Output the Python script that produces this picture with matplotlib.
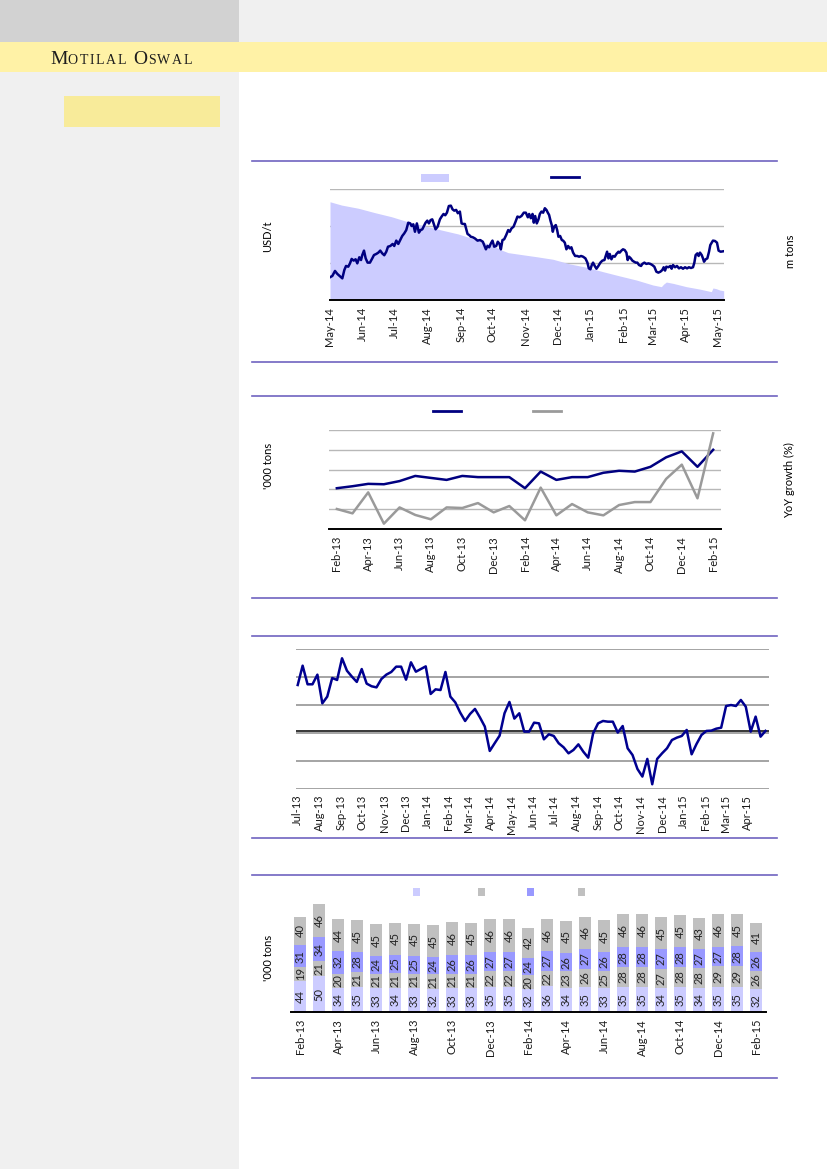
import numpy as np
import pandas as pd
import matplotlib
matplotlib.use('Agg')
import matplotlib.pyplot as plt
from matplotlib.patches import Rectangle
from matplotlib.lines import Line2D

plt.rcParams['font.family'] = ['Lato', 'DejaVu Sans']

# ---- chart 1: price (USD/t, left) and stocks (m tons, right), days from 1 May 2014
price_day = [0, 2.2, 4.7, 6.9, 9.1, 11.6, 13.5, 15.1, 17.2, 18.8,
             20.4, 22.3, 24.1, 25.7, 27.6, 29.2, 30.4, 32.0, 33.6, 35.4,
             37.6, 39.8, 41.4, 43.6, 45.5, 47.3, 49.2, 51.1, 53.0, 54.6,
             56.8, 59.0, 60.5, 62.4, 64.3, 66.5, 68.0, 69.9, 71.8, 73.7,
             75.6, 76.8, 78.4, 80.0, 81.8, 83.7, 85.3, 86.9, 88.1, 90.0,
             91.6, 93.1, 94.7, 96.3, 98.1, 99.4, 101.3, 103.5, 105.1, 106.9,
             108.5, 110.1, 111.9, 113.8, 115.4, 117.0, 118.8, 120.4, 122.3, 123.9,
             125.4, 127.0, 129.5, 131.1, 132.6, 134.5, 136.4, 138.9, 141.4, 143.9,
             145.2, 146.8, 148.3, 149.9, 151.5, 153.0, 154.6, 156.5, 158.0, 159.6,
             160.9, 162.4, 164.0, 165.9, 167.8, 169.3, 170.9, 172.8, 174.7, 176.5,
             178.4, 180.3, 182.5, 184.4, 186.3, 187.5, 189.1, 190.7, 191.9, 193.2,
             194.7, 196.3, 197.6, 199.1, 200.7, 202.3, 203.8, 205.1, 206.3, 207.6,
             208.8, 209.8, 211.0, 212.6, 213.9, 215.1, 216.7, 218.3, 219.5, 221.1,
             222.6, 224.2, 225.8, 227.3, 228.9, 230.8, 232.7, 234.6, 236.4, 238.3,
             240.5, 242.4, 243.7, 245.2, 246.5, 247.7, 249.3, 250.9, 252.7, 254.6,
             256.5, 258.4, 259.6, 260.9, 262.2, 263.4, 265.0, 266.5, 268.1, 269.7,
             271.6, 272.8, 274.4, 275.9, 277.5, 279.1, 280.3, 281.6, 283.2, 284.7,
             286.3, 287.9, 289.4, 291.0, 292.9, 294.1, 296.0, 297.9, 299.8, 301.7,
             303.5, 305.4, 307.3, 309.2, 311.1, 312.9, 314.2, 315.5, 316.7, 318.6,
             320.5, 321.7, 323.0, 324.9, 326.7, 328.6, 330.5, 332.4, 334.3, 336.2,
             338.0, 339.9, 341.8, 343.1, 344.3, 345.9, 347.1, 348.4, 350.0, 351.2,
             352.2, 353.7, 355.3, 356.9, 358.1, 359.4, 360.6, 362.5, 364.4, 365.9,
             367.8, 370.0]
price_usd = [2023, 2030, 2057, 2041, 2030, 2017, 2062, 2084, 2080, 2098,
             2122, 2113, 2120, 2098, 2131, 2116, 2143, 2167, 2125, 2102,
             2102, 2125, 2143, 2149, 2156, 2167, 2152, 2142, 2161, 2188,
             2192, 2203, 2192, 2221, 2203, 2228, 2246, 2260, 2278, 2318,
             2314, 2300, 2309, 2269, 2314, 2264, 2278, 2282, 2296, 2318,
             2329, 2314, 2332, 2336, 2305, 2282, 2296, 2336, 2351, 2365,
             2358, 2372, 2408, 2410, 2390, 2383, 2387, 2369, 2378, 2314,
             2311, 2311, 2257, 2251, 2242, 2239, 2233, 2221, 2224, 2215,
             2197, 2174, 2192, 2185, 2206, 2221, 2188, 2192, 2215, 2203,
             2174, 2224, 2228, 2251, 2278, 2269, 2287, 2296, 2323, 2351,
             2347, 2354, 2372, 2372, 2347, 2365, 2342, 2365, 2318, 2354,
             2314, 2336, 2365, 2378, 2372, 2396, 2387, 2372, 2360, 2329,
             2305, 2269, 2296, 2305, 2278, 2242, 2246, 2224, 2221, 2210,
             2174, 2192, 2179, 2185, 2156, 2138, 2138, 2134, 2138, 2134,
             2125, 2102, 2071, 2066, 2089, 2102, 2084, 2069, 2084, 2102,
             2113, 2116, 2138, 2161, 2125, 2149, 2120, 2138, 2134, 2149,
             2161, 2156, 2167, 2174, 2170, 2156, 2116, 2134, 2125, 2113,
             2107, 2102, 2102, 2089, 2084, 2095, 2102, 2095, 2098, 2095,
             2089, 2080, 2053, 2048, 2053, 2062, 2077, 2059, 2080, 2077,
             2084, 2069, 2089, 2077, 2084, 2071, 2077, 2069, 2077, 2071,
             2077, 2073, 2077, 2102, 2143, 2152, 2138, 2156, 2143, 2125,
             2107, 2120, 2125, 2161, 2197, 2210, 2221, 2219, 2210, 2167,
             2161, 2163]
stock_day = [0, 11, 26.6, 42.3, 58, 73.7, 89.4, 105.1, 120.7, 136.4,
             152.1, 161.5, 167.7, 183.4, 194.4, 210.1, 225.8, 241.5, 257.1, 272.8,
             288.5, 304.1, 312.0, 314.2, 316.7, 323.0, 335.6, 348.1, 359.1, 360.6,
             363.8, 366.9, 370.7]
stock_mt = [0.831, 0.813, 0.796, 0.772, 0.750, 0.722, 0.700, 0.678, 0.657, 0.628,
            0.597, 0.570, 0.556, 0.543, 0.534, 0.520, 0.495, 0.477, 0.453, 0.430,
            0.408, 0.381, 0.372, 0.386, 0.397, 0.390, 0.372, 0.359, 0.345, 0.365,
            0.361, 0.354, 0.350]

# ---- chart 2: monthly production ('000 tons) and YoY growth (%)
prod = [303, 308, 314, 313, 321, 334, 329, 324, 334, 331, 331, 331, 303,
        345, 324, 331, 331, 342, 347, 345, 357, 381, 396, 357, 400]
yoy = [-9.9, -12.1, -1.5, -17.3, -9.1, -12.9, -15.1, -9.1, -9.4, -6.9, -11.6, -8.4, -15.6,
       0.9, -13.1, -7.4, -11.6, -13.1, -7.9, -6.4, -6.4, 5.3, 12.5, -4.5, 28.3]

# ---- chart 3: weekly series from Jul-13
spread = [34.5, 48.3, 35.0, 35.0, 41.9, 21.4, 26.2, 39.5, 38.1, 53.6,
          44.7, 40.5, 36.7, 45.9, 35.5, 33.6, 32.8, 38.8, 41.9, 43.8,
          47.6, 47.6, 38.3, 50.7, 44.0, 45.9, 47.8, 28.1, 31.4, 30.9,
          43.8, 26.2, 22.1, 14.8, 8.8, 13.8, 17.4, 11.4, 4.8, -12.6,
          -7.1, -1.7, 14.3, 22.4, 10.5, 14.3, 1.2, 1.2, 7.6, 7.1,
          -4.3, -0.7, -1.9, -7.1, -10.0, -14.3, -11.9, -7.9, -13.1, -17.4,
          0.0, 7.1, 8.8, 8.3, 8.3, 0.5, 5.2, -10.7, -15.5, -25.5,
          -30.9, -18.3, -36.4, -18.3, -14.3, -10.7, -4.8, -3.1, -1.9, 2.4,
          -15.0, -7.6, -1.2, 1.7, 1.9, 3.3, 4.0, 19.5, 20.2, 19.5,
          23.8, 19.0, 1.2, 11.9, -2.4, 1.7]
spread_ref = 2

# ---- chart 4: stacked monthly bars ('000 tons)
seg1 = [44, 50, 34, 35, 33, 34, 33, 32, 33, 33, 35, 35, 32, 36, 34, 35, 33, 35, 35, 34, 35, 34, 35, 35, 32]
seg2 = [19, 21, 20, 21, 21, 21, 21, 21, 21, 21, 22, 22, 20, 22, 23, 26, 25, 28, 28, 27, 28, 28, 29, 29, 26]
seg3 = [31, 34, 32, 28, 24, 25, 25, 24, 26, 26, 27, 27, 24, 27, 26, 27, 26, 28, 28, 27, 28, 27, 27, 28, 26]
seg4 = [40, 46, 44, 45, 45, 45, 45, 45, 46, 45, 46, 46, 42, 46, 45, 46, 45, 46, 46, 45, 45, 43, 46, 45, 41]

NAVY = '#000080'
LAV = '#ccccff'
W, H = 827, 1169

fig = plt.figure(figsize=(8.27, 11.69), dpi=100)


def box(x0, y0, x1, y1):
    return [x0 / W, 1 - y1 / H, (x1 - x0) / W, (y1 - y0) / H]


def rect(x0, y0, x1, y1, color):
    fig.add_artist(Rectangle((x0 / W, 1 - y1 / H), (x1 - x0) / W, (y1 - y0) / H,
                             transform=fig.transFigure, color=color, lw=0, zorder=-5))


def hline(x0, x1, y, color, lw):
    fig.add_artist(Line2D([x0 / W, x1 / W], [1 - y / H] * 2, color=color, lw=lw,
                          transform=fig.transFigure))


def ftext(x, y, s, **kw):
    return fig.text(x / W, 1 - y / H, s, **kw)


def clean(ax):
    for s in ax.spines.values():
        s.set_visible(False)
    ax.tick_params(length=0, labelsize=8, labelcolor='#1a1a1a')
    ax.set_yticklabels([])
    ax.patch.set_visible(False)


# page background
rect(0, 0, 239, 42, '#d2d2d2')
rect(239, 0, 827, 42, '#f0f0f0')
rect(0, 42, 827, 72, '#fff2a6')
rect(0, 72, 239, 1169, '#f0f0f0')
rect(64, 96, 220, 127, '#f8eb9a')

# small-caps masthead, letter by letter with a little tracking
renderer = fig.canvas.get_renderer()
xpos = 50
for word in ['MOTILAL', 'OSWAL']:
    for i, ch in enumerate(word):
        size = 14 if i == 0 else 10
        t = ftext(xpos, 64, ch, fontsize=size, family='Liberation Serif',
                  color='#1e1e1e', va='baseline')
        xpos += t.get_window_extent(renderer).width + (0.3 if i == 0 else 1.6)
    xpos += 6

for y in [161, 362, 396, 598, 636, 838, 875, 1078]:
    hline(252, 777, y, '#6f63c0', 1.2)

# ---- chart 1
ax1 = fig.add_axes(box(330, 189, 724, 300))
ax1b = ax1.twinx()
ax1.set_zorder(ax1b.get_zorder() + 1)
ax1b.fill_between(stock_day, stock_mt, 0.3, color=LAV, lw=0, zorder=2)
ax1b.set_ylim(0.3, 0.9)
ax1b.set_yticks([0.3, 0.5, 0.7, 0.9])
ax1b.grid(axis='y', color='#b8b8b8', lw=1)
ax1b.set_axisbelow(True)
ax1.plot(price_day, price_usd, color=NAVY, lw=1.8)
ax1.set_ylim(1900, 2500)
ax1.set_xlim(0, 371)
m1 = pd.date_range('2014-05-01', '2015-05-01', freq='MS')
ax1.set_xticks([(d - m1[0]).days for d in m1])
ax1.set_xticklabels([d.strftime('%b-%y') for d in m1], rotation=90)
clean(ax1)
clean(ax1b)
ax1.spines['bottom'].set_visible(True)
ax1.spines['bottom'].set_linewidth(1.4)
ax1.tick_params(axis='x', pad=5)
ftext(268, 236, 'USD/t', rotation=90, fontsize=8, ha='center', va='center')
ftext(790, 251, 'm tons', rotation=90, fontsize=8, ha='center', va='center')
rect(421, 174, 449, 182, LAV)
hline(551, 579, 177, NAVY, 2)

# ---- chart 2
ax2 = fig.add_axes(box(329, 430, 721, 529))
ax2b = ax2.twinx()
x2 = np.arange(len(prod))
ax2.plot(x2, prod, color=NAVY, lw=1.8)
ax2b.plot(x2, yoy, color='#9a9a9a', lw=1.8)
ax2.set_ylim(200, 450)
ax2.set_yticks(np.arange(200, 451, 50))
ax2.grid(axis='y', color='#b8b8b8', lw=1)
ax2.set_axisbelow(True)
ax2b.set_ylim(-20, 30)
ax2.set_xlim(-0.5, len(prod) - 0.5)
m2 = pd.date_range('2013-02-01', periods=len(prod), freq='MS')
ax2.set_xticks(x2[::2])
ax2.set_xticklabels([d.strftime('%b-%y') for d in m2[::2]], rotation=90)
clean(ax2)
clean(ax2b)
ax2.spines['bottom'].set_visible(True)
ax2.spines['bottom'].set_linewidth(1.4)
ax2.tick_params(axis='x', pad=5)
ftext(268, 466, "'000 tons", rotation=90, fontsize=8, ha='center', va='center')
ftext(790, 480, 'YoY growth (%)', rotation=90, fontsize=8, ha='center', va='center')
hline(433, 461, 411, NAVY, 2)
hline(533, 561, 411, '#9a9a9a', 2)

# ---- chart 3
ax3 = fig.add_axes(box(295.6, 649.3, 769, 789.3))
d3 = pd.date_range('2013-07-01', periods=len(spread), freq='7D')
ax3.plot(d3, spread, color='#000090', lw=1.8, zorder=3)
ax3.axhline(spread_ref, color='black', lw=1.1, zorder=2)
ax3.set_ylim(-40, 60)
ax3.set_yticks(np.arange(-40, 61, 20))
ax3.grid(axis='y', color='#8c8c8c', lw=1.1)
ax3.set_axisbelow(True)
ax3.set_xlim(pd.Timestamp('2013-06-28'), pd.Timestamp('2015-05-02'))
m3 = pd.date_range('2013-07-01', '2015-04-01', freq='MS')
ax3.set_xticks(m3)
ax3.set_xticklabels([d.strftime('%b-%y') for d in m3], rotation=90)
clean(ax3)
ax3.tick_params(axis='x', pad=4)

# ---- chart 4
ax4 = fig.add_axes(box(290.6, 898, 765.5, 1012))
x4 = np.arange(len(seg1))
base = np.zeros(len(seg1))
for vals, col in zip([seg1, seg2, seg3, seg4], [LAV, '#c0c0c0', '#9999ff', '#c0c0c0']):
    ax4.bar(x4, vals, 0.6, bottom=base, color=col, lw=0)
    for xi, v, b in zip(x4, vals, base):
        ax4.text(xi, b + v / 2, str(v), rotation=90, ha='center', va='center',
                 fontsize=8, color='#222222')
    base = base + np.array(vals)
ax4.set_ylim(0, 160)
ax4.set_xlim(-0.5, len(seg1) - 0.5)
m4 = pd.date_range('2013-02-01', periods=len(seg1), freq='MS')
ax4.set_xticks(x4[::2])
ax4.set_xticklabels([d.strftime('%b-%y') for d in m4[::2]], rotation=90)
clean(ax4)
ax4.spines['bottom'].set_visible(True)
ax4.spines['bottom'].set_linewidth(1.4)
ax4.tick_params(axis='x', pad=5)
ftext(268, 958, "'000 tons", rotation=90, fontsize=8, ha='center', va='center')
for xl, col in zip([413, 478, 527, 578], [LAV, '#c0c0c0', '#9999ff', '#c0c0c0']):
    rect(xl, 888, xl + 7, 896, col)

fig.savefig('out.png', dpi=100)
